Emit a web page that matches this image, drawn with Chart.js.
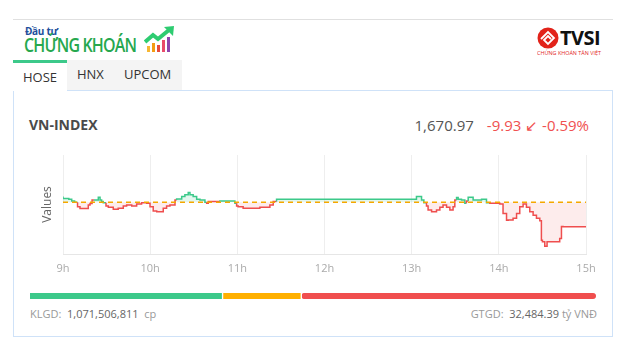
<!DOCTYPE html>
<html><head><meta charset="utf-8">
<script src="https://cdn.jsdelivr.net/npm/chart.js@4.4.0/dist/chart.umd.min.js"></script>
<style>
html,body{margin:0;padding:0;background:#fff;width:630px;height:357px;overflow:hidden;font-family:"Open Sans",sans-serif;}
.abs{position:absolute;}
</style></head>
<body>
<div class="abs" style="left:13px;top:19px;width:600px;height:1px;background:#e0e0e0"></div>
<!-- logo -->
<div class="abs" style="left:25px;top:24px;font-size:10px;font-weight:bold;color:#1d4f9c;letter-spacing:-0.3px">Đầu tư</div>
<div class="abs" style="left:24px;top:32px;font-size:19px;font-weight:600;color:#26a84e;letter-spacing:-1px;transform:scaleX(0.84);transform-origin:left top;white-space:nowrap">CHỨNG KHOÁN</div>
<svg class="abs" style="left:144px;top:26px" width="32" height="27" viewBox="0 0 32 27">
  <rect x="3" y="20" width="3" height="6" fill="#f7b733"/>
  <rect x="8" y="17" width="3" height="9" fill="#f39c12"/>
  <rect x="13" y="19" width="3" height="7" fill="#e74c3c"/>
  <rect x="18" y="14" width="3" height="12" fill="#e94b6a"/>
  <rect x="23" y="11" width="3" height="15" fill="#8e44ad"/>
  <polyline points="1,16 9,9 14,13 25,4" fill="none" stroke="#2ecc71" stroke-width="4"/>
  <polygon points="20,1 30,0 29,10" fill="#2ecc71"/>
</svg>
<!-- TVSI -->
<svg class="abs" style="left:536px;top:27px" width="24" height="22" viewBox="0 0 24 22">
  <circle cx="12" cy="11" r="10.5" fill="#e2231a"/>
  <path d="M5 12 L12 5 L18 11 L12 17 L8 13 L12 9 L15 12" fill="none" stroke="#fff" stroke-width="1.8"/>
</svg>
<div class="abs" style="left:560px;top:24px;font-size:20px;font-weight:bold;color:#111;letter-spacing:-0.5px">TVSI</div>
<div class="abs" style="left:537px;top:49px;font-size:9px;color:#e2231a;transform:scale(0.6);transform-origin:left top;white-space:nowrap">CHỨNG KHOÁN TÂN VIỆT</div>
<!-- tabs -->
<div class="abs" style="left:67px;top:60px;width:115px;height:30px;background:#f4f4f4"></div>
<div class="abs" style="left:13px;top:90px;width:598px;height:245px;border:1px solid #cfe2f8"></div>
<div class="abs" style="left:13px;top:60px;width:54px;height:31px;background:#fff;border-top:3px solid #3cc98a;box-sizing:border-box"></div>
<div class="abs" style="left:23px;top:68px;font-size:13px;color:#333">HOSE</div>
<div class="abs" style="left:77px;top:65px;font-size:13px;color:#333">HNX</div>
<div class="abs" style="left:124px;top:65px;font-size:13px;color:#333">UPCOM</div>
<!-- header -->
<div class="abs" style="left:29px;top:115px;font-size:14px;font-weight:bold;color:#4a4a4a">VN-INDEX</div>
<div class="abs" style="right:41px;top:115px;font-size:15px;color:#555;white-space:nowrap">1,670.97<span style="color:#f05050;margin-left:13px">-9.93 ↙ -0.59%</span></div>
<!-- chart -->
<div class="abs" style="left:0;top:140px;width:630px;height:150px"><canvas id="c"></canvas></div>
<div class="abs" style="left:30px;top:293px;width:566px;height:6px"><canvas id="b"></canvas></div>
<div class="abs" style="left:30px;top:306px;font-size:11px;color:#999;white-space:nowrap">KLGD:&nbsp; <span style="color:#666">1,071,506,811</span>&nbsp; cp</div>
<div class="abs" style="right:33px;top:306px;font-size:11px;color:#999;white-space:nowrap">GTGD:&nbsp; <span style="color:#666">32,484.39</span>&nbsp;tỷ VNĐ</div>
<script>
// minutes since 09:00
const times = [0,4,6,8,10,11.7,14,17.4,18.6,20,21.3,24.3,25.5,26.6,27.7,29.6,31.2,34.6,38,41.5,43.8,47.3,50.7,54.1,57.6,59.9,62.1,64.5,66.7,69,71.3,73.6,77.1,78.2,81.7,83.9,86.2,87.4,89.6,92,94.3,97.7,98.9,100,108,110.3,118.3,119.5,120.6,124,128.7,135.5,142.4,144.7,147,148.1,240,243.3,244.5,246.8,248.4,250.2,251.3,253.7,257.1,259.4,261.6,264,266.3,268.5,269.7,270.9,272,274.3,276.6,277.7,278.9,280,282.3,284.6,288.1,291.5,293.8,297.2,300.7,302.9,305.3,306.4,309.8,312.2,314.4,316.7,319,321.3,323.6,325.9,328.2,329.3,330,331.6,333.2,333.9,341.9,343.1,344.2,360];
const values = [1683.2,1682.4,1682.1,1681.4,1680.9,1679.1,1678.4,1678.4,1679.8,1680.4,1681.8,1681.8,1682.9,1681.8,1681.2,1680.7,1679.4,1678.9,1678.1,1678.45,1679.4,1679.8,1679.4,1680.2,1680.75,1680.5,1679.1,1677.4,1677.1,1677.1,1678.45,1679.4,1679.8,1681.8,1682.2,1683.2,1683.9,1684.8,1683.9,1683.2,1682.1,1681.8,1680.9,1680.5,1681.2,1681.4,1681.4,1680.5,1679.4,1679.1,1678.45,1678.45,1678.9,1679.8,1681.2,1682.1,1682.1,1682.1,1683.2,1683.2,1681.8,1680.75,1679.4,1677.8,1677.1,1677.8,1678.9,1679.8,1678.9,1677.8,1679.1,1681.8,1682.8,1682.1,1681.8,1680.5,1681.4,1682.9,1682.9,1681.8,1681.8,1682.1,1680.75,1680.5,1680.5,1680.2,1676.4,1673.6,1673.7,1674.4,1676.4,1679.1,1680.2,1678.9,1677.1,1675.7,1674.4,1673.4,1665.6,1665.0,1663.1,1664.9,1664.9,1666.3,1671.1,1670.97];
const refValue = 1680.90;
const tickHours = ["9h","10h","11h","12h","13h","14h","15h"];
const breadthLabels = ["Tăng","Đứng giá","Giảm"];
const breadthCounts = [115,47,176];

const GREEN='#3cc98a', RED='#ef4e4e', ORANGE='#f5a800';
const pts = times.map((t,i)=>({x:t,y:values[i]}));
new Chart(document.getElementById('c'),{
  type:'line',
  data:{datasets:[
    {data:[{x:0,y:refValue},{x:360,y:refValue}],borderColor:ORANGE,borderWidth:1.5,borderDash:[5,4],pointRadius:0,fill:false},
    {data:pts,stepped:'after',borderWidth:1.5,pointRadius:0,borderColor:RED,
     segment:{borderColor:ctx=>ctx.p0.parsed.y>refValue?GREEN:RED},
     fill:{target:{value:refValue},above:'rgba(60,201,138,0.14)',below:'rgba(239,78,78,0.11)'}}
  ]},
  options:{responsive:true,maintainAspectRatio:false,animation:false,
    layout:{padding:{left:40.6,right:44,top:15,bottom:6.8}},
    plugins:{legend:{display:false},tooltip:{enabled:false}},
    scales:{
      x:{type:'linear',min:0,max:360,
        ticks:{stepSize:60,padding:8,color:'#aaa',font:{size:11,family:'Open Sans'},callback:(v,i)=>tickHours[Math.round(v/60)]},
        grid:{color:'#eeeeee',drawTicks:false},border:{color:'#e6e6e6'}},
      y:{min:1660,max:1700,ticks:{display:false},grid:{display:false,drawTicks:false},border:{display:false},
        title:{display:true,text:'Values',color:'#666',font:{size:12,family:'Open Sans'},padding:{top:0,bottom:8}}}
    }}
});
const bcolors=[GREEN,'#ffb000','#f04e4e'];
new Chart(document.getElementById('b'),{
  type:'bar',
  data:{labels:['x'],datasets:breadthCounts.map((v,i)=>({label:breadthLabels[i],data:[v],backgroundColor:bcolors[i],
    borderColor:'#fff',borderWidth:{left:i>0?1:0,right:i<2?1:0,top:0,bottom:0},borderSkipped:false,borderRadius:3,
    barPercentage:1,categoryPercentage:1}))},
  options:{indexAxis:'y',responsive:true,maintainAspectRatio:false,animation:false,
    layout:{padding:0},plugins:{legend:{display:false},tooltip:{enabled:false}},
    scales:{x:{display:false,stacked:true,min:0,max:breadthCounts.reduce((a,b)=>a+b,0)},y:{display:false,stacked:true}}}
});
</script>
</body></html>
